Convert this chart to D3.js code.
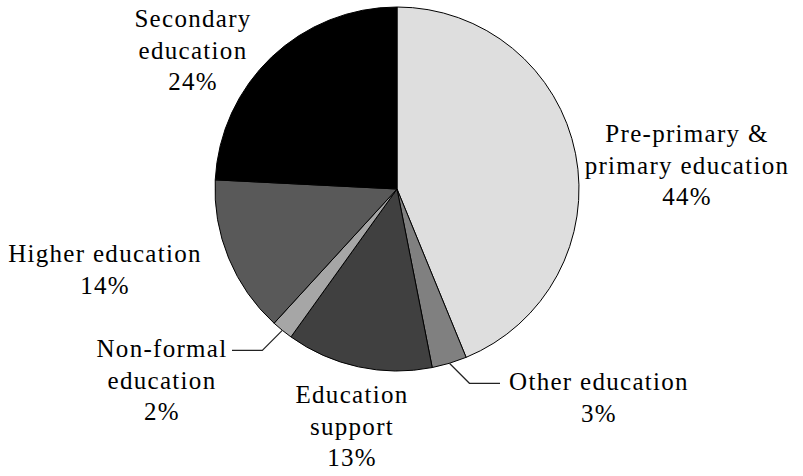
<!DOCTYPE html>
<html>
<head>
<meta charset="utf-8">
<script src="https://cdn.jsdelivr.net/npm/d3@7"></script>
<style>
  body { margin: 0; background: #fff; }
</style>
</head>
<body>
<div id="chart"></div>
<script>
// shares of education spending, clockwise from 12 o'clock
const categories = ['Pre-primary & primary education', 'Other education', 'Education support',
    'Non-formal education', 'Higher education', 'Secondary education']
const shares = [43.8, 3.1, 13.0, 1.9, 14.0, 24.2]
const labelLines = [
    ['Pre-primary &', 'primary education'],
    ['Other education'],
    ['Education', 'support'],
    ['Non-formal', 'education'],
    ['Higher education'],
    ['Secondary', 'education']
]
const fills = ['#dedede', '#808080', '#404040', '#a6a6a6', '#595959', '#000000']

const width = 803, height = 476
const cx = 397, cy = 189, radius = 182
const lineHeight = 31.5

// where each label block sits: centre x, first baseline y, leader (if any)
const labelPos = [
    { x: 687, y: 142 },
    { x: 599, y: 390, leader: { dir: 1, endX: 500 } },
    { x: 352, y: 403 },
    { x: 162, y: 357, leader: { dir: -1, endX: 232 } },
    { x: 105, y: 262 },
    { x: 193, y: 27 }
]

const svg = d3.select('#chart').append('svg')
    .attr('width', width)
    .attr('height', height)

const g = svg.append('g')
    .attr('transform', `translate(${cx}, ${cy})`)

const pie = d3.pie().sort(null).value(d => d)
const arcs = pie(shares)
const arc = d3.arc().innerRadius(0).outerRadius(radius)

g.selectAll('path.slice')
    .data(arcs)
    .join('path')
    .attr('class', 'slice')
    .attr('d', arc)
    .attr('fill', (d, i) => fills[i])
    .attr('stroke', '#000')
    .attr('stroke-width', 1)
    .attr('stroke-linejoin', 'round')

// leader lines for the thin slices
arcs.forEach((d, i) => {
    const lp = labelPos[i].leader
    if (!lp) return
    const mid = (d.startAngle + d.endAngle) / 2
    const sx = cx + Math.sin(mid) * radius
    const sy = cy - Math.cos(mid) * radius
    const k = 20
    const ex = sx + lp.dir * k, ey = sy + k
    svg.append('path')
        .attr('d', d3.line()([[sx, sy], [ex, ey], [lp.endX, ey]]))
        .attr('fill', 'none')
        .attr('stroke', '#222')
        .attr('stroke-width', 1.2)
})

// labels
arcs.forEach((d, i) => {
    const p = labelPos[i]
    const lines = labelLines[i].concat([Math.round(shares[i]) + '%'])
    const t = svg.append('text')
        .attr('text-anchor', 'middle')
        .style('font-family', '"Liberation Serif"')
        .style('font-size', '25px')
        .style('letter-spacing', '1.3px')
        .style('fill', '#000')
    lines.forEach((s, j) => {
        t.append('tspan')
            .attr('x', p.x)
            .attr('y', p.y + j * lineHeight)
            .text(s)
    })
})
</script>
</body>
</html>
